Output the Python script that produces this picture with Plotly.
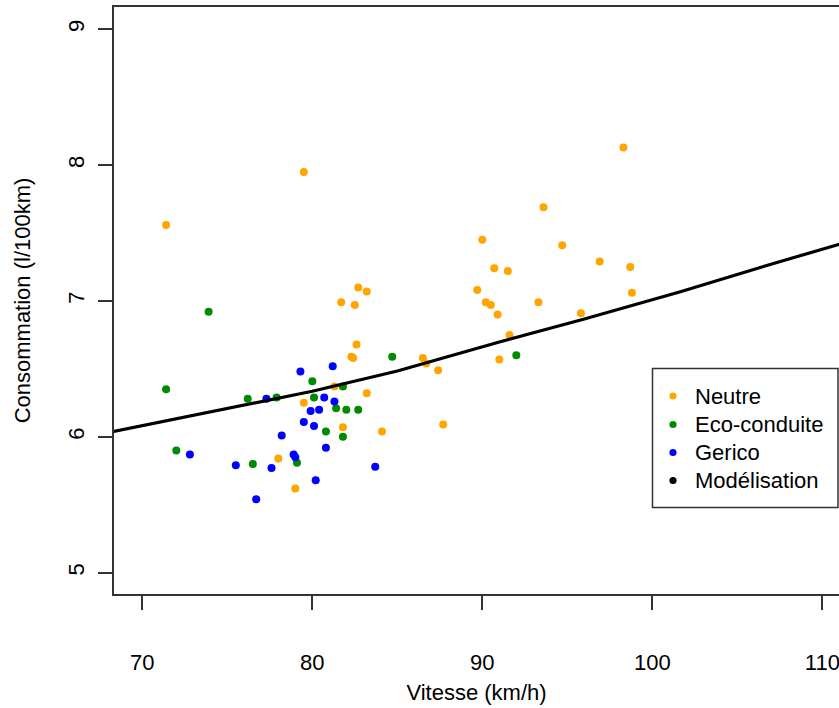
import plotly.graph_objects as go

# Vitesse (km/h) / consommation (l/100km) par groupe
neutre_vitesse = [71.4, 79.5, 98.3, 93.6, 90.0, 94.7, 90.7, 91.5, 96.9, 98.7,
                  89.7, 98.8, 90.2, 90.5, 90.9, 93.3, 95.8, 91.6, 86.5, 86.7,
                  87.4, 91.0, 84.1, 87.7, 82.7, 83.2, 81.7, 82.5, 82.6, 82.3,
                  82.4, 81.3, 83.2, 79.5, 81.8, 78.0, 79.0]
neutre_conso = [7.56, 7.95, 8.13, 7.69, 7.45, 7.41, 7.24, 7.22, 7.29, 7.25,
                7.08, 7.06, 6.99, 6.97, 6.90, 6.99, 6.91, 6.75, 6.58, 6.54,
                6.49, 6.57, 6.04, 6.09, 7.10, 7.07, 6.99, 6.97, 6.68, 6.59,
                6.58, 6.37, 6.32, 6.25, 6.07, 5.84, 5.62]

eco_vitesse = [73.9, 71.4, 84.7, 92.0, 76.2, 77.9, 80.0, 80.1, 81.8, 81.4,
               82.0, 82.7, 80.8, 81.8, 72.0, 76.5, 79.1]
eco_conso = [6.92, 6.35, 6.59, 6.60, 6.28, 6.29, 6.41, 6.29, 6.37, 6.21,
             6.20, 6.20, 6.04, 6.00, 5.90, 5.80, 5.81]

gerico_vitesse = [79.3, 81.2, 77.3, 80.7, 81.3, 79.9, 80.4, 79.5, 80.1, 78.2,
                  72.8, 78.9, 79.0, 80.8, 75.5, 77.6, 83.7, 80.2, 76.7]
gerico_conso = [6.48, 6.52, 6.28, 6.29, 6.26, 6.19, 6.20, 6.11, 6.08, 6.01,
                5.87, 5.87, 5.85, 5.92, 5.79, 5.77, 5.78, 5.68, 5.54]

# Courbe de modélisation
modele_vitesse = [68.3, 74.0, 80.0, 85.0, 91.0, 96.0, 101.6, 106.3, 111.0]
modele_conso = [6.04, 6.184, 6.335, 6.485, 6.698, 6.867, 7.066, 7.245, 7.418]

legende_noms = ["Neutre", "Eco-conduite", "Gerico", "Modélisation"]

x_ticks = [70, 80, 90, 100, 110]
y_ticks = [5, 6, 7, 8, 9]

FONT = "Arial, Liberation Sans, sans-serif"
ORANGE = "#FFA500"
GREEN = "#008B00"
BLUE = "#0000FF"
legende_couleurs = [ORANGE, GREEN, BLUE, "black"]

W, H = 839, 708
M_L, M_R, M_T, M_B = 114, 0, 7, 114
PLOT_W = W - M_L - M_R
PLOT_H = H - M_T - M_B


def px_x(px):
    """Horizontal pixel position -> paper coordinate."""
    return (px - M_L) / PLOT_W


def px_y(py):
    """Vertical pixel position (from top) -> paper coordinate."""
    return (H - M_B - py) / PLOT_H


fig = go.Figure()

groups = [
    ("Neutre", neutre_vitesse, neutre_conso, ORANGE),
    ("Eco-conduite", eco_vitesse, eco_conso, GREEN),
    ("Gerico", gerico_vitesse, gerico_conso, BLUE),
]
for name, xs, ys, col in groups:
    fig.add_trace(go.Scatter(
        x=xs, y=ys, mode="markers", name=name,
        marker=dict(color=col, size=8, line=dict(width=0)),
    ))

fig.add_trace(go.Scatter(
    x=modele_vitesse, y=modele_conso, mode="lines", name="Modélisation",
    line=dict(color="black", width=3.2),
))

# Legend box, in the style of base-R legend()
shapes = [dict(
    type="rect", xref="paper", yref="paper",
    x0=px_x(652.5), x1=px_x(838), y0=px_y(507.5), y1=px_y(368.5),
    line=dict(color="#333", width=1.5), fillcolor="white", layer="above",
)]
annotations = []
row_y = [396, 424.5, 452.5, 480.5]
for nom, col, ry in zip(legende_noms, legende_couleurs, row_y):
    shapes.append(dict(
        type="circle", xref="paper", yref="paper",
        xsizemode="pixel", ysizemode="pixel",
        xanchor=px_x(673), yanchor=px_y(ry),
        x0=-3.6, x1=3.6, y0=-3.6, y1=3.6,
        fillcolor=col, line=dict(width=0), layer="above",
    ))
    annotations.append(dict(
        text=nom, xref="paper", yref="paper",
        x=px_x(693), y=px_y(ry), xanchor="left", yanchor="middle",
        showarrow=False, font=dict(family=FONT, size=22, color="black"),
    ))

axis_common = dict(
    showgrid=False, zeroline=False,
    showline=True, linecolor="#333", linewidth=1.5,
    ticks="outside", ticklen=14, tickwidth=1.5, tickcolor="#333",
    tickfont=dict(family=FONT, size=22, color="black"),
    ticklabeloverflow="allow",
)

fig.update_layout(
    width=W, height=H,
    margin=dict(l=M_L, r=M_R, t=M_T, b=M_B),
    paper_bgcolor="white", plot_bgcolor="white",
    font=dict(family=FONT, size=22, color="black"),
    showlegend=False,
    shapes=shapes,
    annotations=annotations,
    xaxis=dict(
        range=[68.335, 110.98], tickvals=x_ticks, mirror=True,
        ticklabelstandoff=34,
        title=dict(text="Vitesse (km/h)", standoff=10,
                   font=dict(family=FONT, size=22)),
        **axis_common,
    ),
    yaxis=dict(
        range=[4.843, 9.164], tickvals=y_ticks, tickangle=-90,
        ticklabelstandoff=5,
        title=dict(text="Consommation (l/100km)", standoff=28,
                   font=dict(family=FONT, size=22)),
        **axis_common,
    ),
)

fig.write_html("out.html")
